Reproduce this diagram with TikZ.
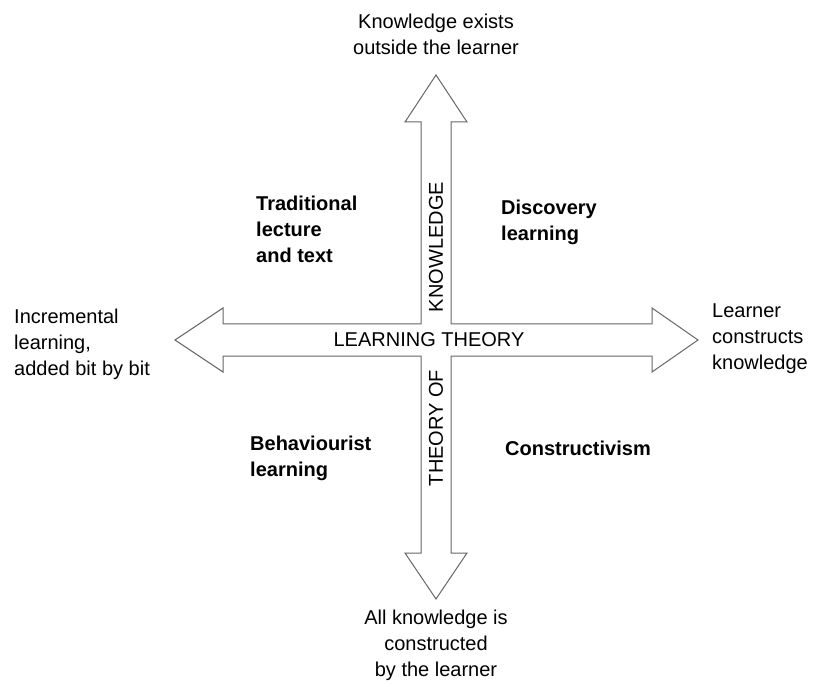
\documentclass[tikz,border=0pt]{standalone}
\usepackage{fontspec}
\setmainfont{Liberation Sans}
\begin{document}
\begin{tikzpicture}[x=1pt,y=-1pt,
  lbl/.style={inner sep=0pt,font=\fontsize{20}{26}\selectfont},
  blbl/.style={lbl,font=\fontsize{20}{26}\selectfont\bfseries,align=left,anchor=west},
  axis/.style={draw=black!60,line width=1pt,line join=miter,fill=white}]
\useasboundingbox (0,0) rectangle (816,684);
% the cross-shaped double arrow
\draw[axis] (436,75) -- (467,122) -- (451,122) -- (451,324) -- (652,324) -- (652,308)
  -- (698,340) -- (652,372) -- (652,356) -- (451,356) -- (451,553) -- (467,553)
  -- (436,599) -- (405,553) -- (421,553) -- (421,356) -- (223,356) -- (223,372)
  -- (175,340) -- (223,308) -- (223,324) -- (421,324) -- (421,122) -- (405,122) -- cycle;
% axis labels
\node[lbl] (lt) at (429,340) {LEARNING THEORY};
\node[lbl,rotate=90] (kn) at (436,247) {KNOWLEDGE};
\node[lbl,rotate=90] (to) at (436,428) {THEORY OF};
% end labels
\node[lbl,align=center] (top) at (436,34) {Knowledge exists\\outside the learner};
\node[lbl,align=center] (bot) at (436,645) {All knowledge is\\constructed\\by the learner};
\node[lbl,align=left,anchor=west] (lft) at (14,344) {Incremental\\learning,\\added bit by bit};
\node[lbl,align=left,anchor=west] (rgt) at (712,339) {Learner\\constructs\\knowledge};
% quadrant labels
\node[blbl] (q1) at (256,229) {Traditional\\lecture\\and text};
\node[blbl] (q2) at (501,222) {Discovery\\learning};
\node[blbl] (q3) at (250,458) {Behaviourist\\learning};
\node[blbl] (q4) at (505,448) {Constructivism};
\end{tikzpicture}
\end{document}
